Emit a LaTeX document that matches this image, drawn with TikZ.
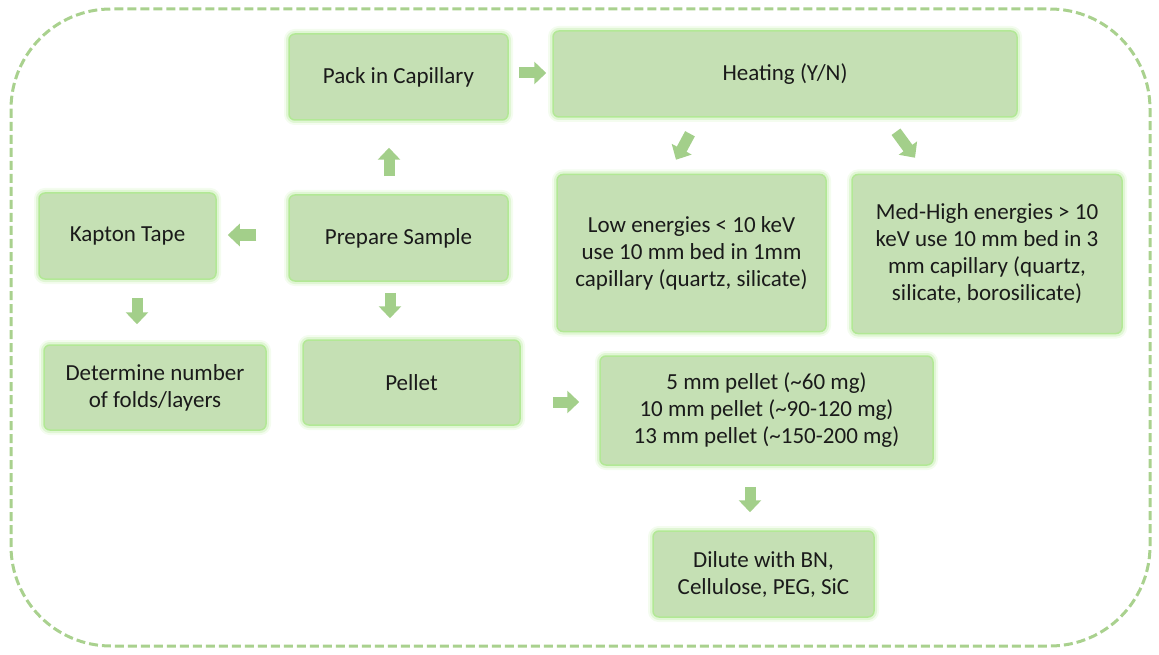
\documentclass[tikz,border=0pt]{standalone}
\usepackage{fontspec}
\setmainfont{Carlito}
\usetikzlibrary{arrows.meta,calc}
\definecolor{boxfill}{HTML}{C5E0B4}
\definecolor{glow}{HTML}{B2E895}
\definecolor{arrowc}{HTML}{A3CF8A}
\definecolor{dashc}{HTML}{A9D18E}
\definecolor{txt}{HTML}{1A1A1A}
\tikzset{
  box/.style={rectangle, rounded corners=6pt, fill=boxfill, draw=glow, line width=1.5pt,
    preaction={draw=glow, line width=10pt, opacity=0.15},
    preaction={draw=glow, line width=6pt, opacity=0.3},
    align=center, text=txt, inner sep=0pt,
    font=\fontsize{23}{27}\selectfont},
  blockarrow/.style={draw=arrowc, line width=11pt, -{Triangle[width=22pt,length=12pt]}, arrowc},
  outerbox/.style={draw=dashc, line width=3pt, dash pattern=on 9pt off 4pt, rounded corners=100pt}
}
\begin{document}
\begin{tikzpicture}[x=1pt,y=-1pt]
\useasboundingbox (0,0) rectangle (1159,655);
\draw[outerbox] (11,9) rectangle (1150,646);

\node[box, minimum width=219pt, minimum height=86pt] (pack) at (398.5,77) {Pack in Capillary};
\node[box, minimum width=464pt, minimum height=86pt] (heat) at (785,74) {Heating (Y/N)};
\node[box, minimum width=177pt, minimum height=86pt] (kapton) at (127.5,236) {Kapton Tape};
\node[box, minimum width=219pt, minimum height=86pt] (prep) at (398.5,238) {Prepare Sample};
\node[box, minimum width=269pt, minimum height=157pt] (low) at (691.5,253) {Low energies < 10 keV\\use 10 mm bed in 1mm\\capillary (quartz, silicate)};
\node[box, minimum width=270pt, minimum height=159pt] (med) at (987,254) {Med-High energies > 10\\keV use 10 mm bed in 3\\mm capillary (quartz,\\silicate, borosilicate)};
\node[box, minimum width=222pt, minimum height=85pt] (det) at (155,387.5) {Determine number\\of folds/layers};
\node[box, minimum width=217pt, minimum height=85pt] (pellet) at (411.5,382.5) {Pellet};
\node[box, minimum width=333pt, minimum height=109pt] (pel5) at (766.5,410.5) {5 mm pellet (\textasciitilde 60 mg)\\10 mm pellet (\textasciitilde 90-120 mg)\\13 mm pellet (\textasciitilde 150-200 mg)};
\node[box, minimum width=221pt, minimum height=86pt] (dil) at (763.5,574) {Dilute with BN,\\Cellulose, PEG, SiC};

\draw[blockarrow] ($(pack.east)+(10,-4)$) -- ($(heat.west)+(-6,-1)$);
\draw[blockarrow] ($(prep.north)+(-9.5,-18)$) -- ($(pack.south)+(-9.5,27)$);
\draw[blockarrow] ($(prep.west)+(-32,-3)$) -- ($(kapton.east)+(11,-1)$);
\draw[blockarrow] ($(prep.south)+(-8.5,11)$) -- ($(pellet.north)+(-21.5,-21)$);
\draw[blockarrow] ($(kapton.south)+(9.5,18)$) -- ($(det.north)+(-18,-20)$);
\draw[blockarrow] ($(pellet.east)+(32,19.5)$) -- ($(pel5.west)+(-20,-8.5)$);
\draw[blockarrow] ($(heat.south)+(-95,16)$) -- ($(low.north)+(-15.5,-14)$);
\draw[blockarrow] ($(heat.south)+(111,14)$) -- ($(med.north)+(-72,-16)$);
\draw[blockarrow] ($(pel5.south)+(-16.5,21)$) -- ($(dil.north)+(-13.5,-18)$);
\end{tikzpicture}
\end{document}
